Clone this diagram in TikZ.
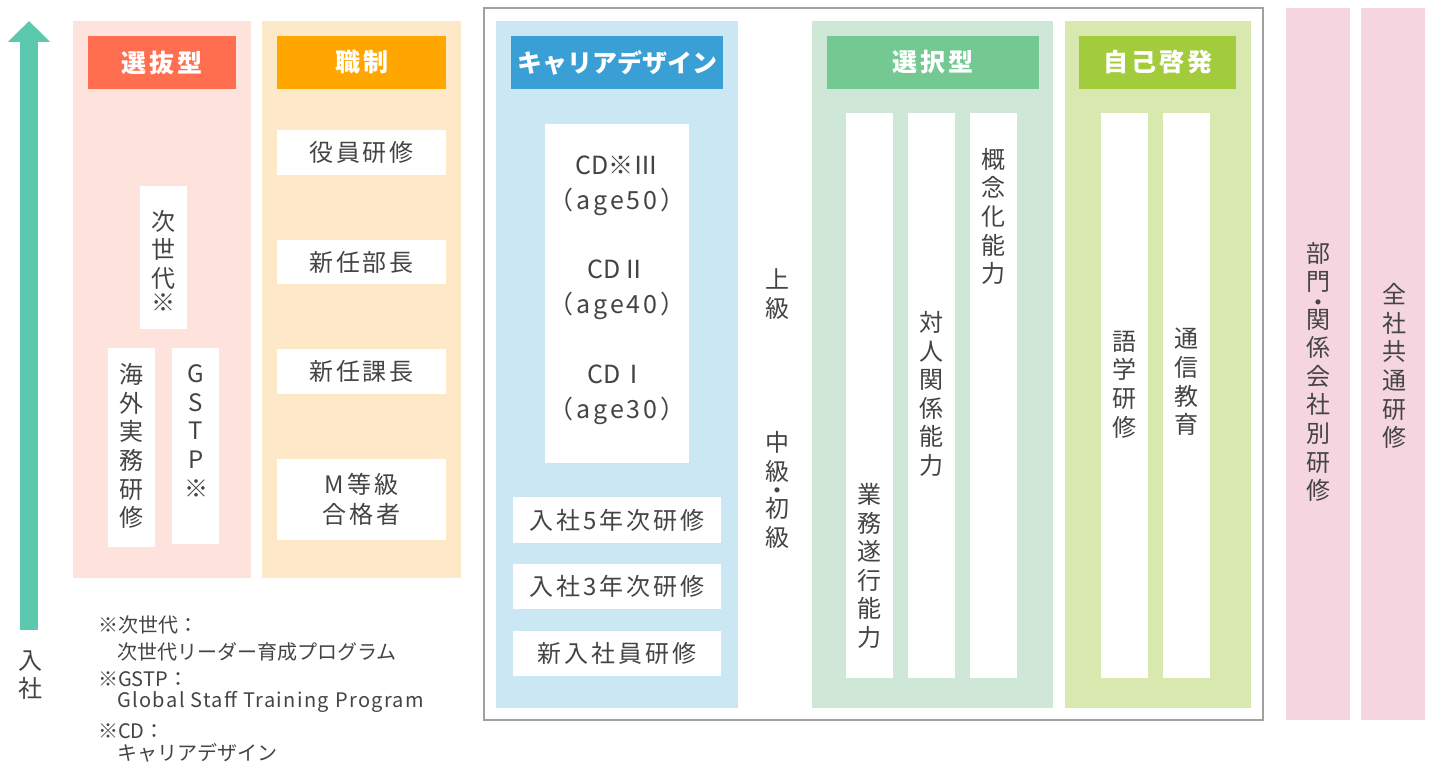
\documentclass[tikz,border=0pt]{standalone}
\usepackage{fontspec}
\setmainfont{Noto Sans CJK JP}
\usetikzlibrary{arrows.meta}
\definecolor{txt}{HTML}{444444}
\definecolor{framec}{HTML}{A0A0A0}
\definecolor{arrowc}{HTML}{5CC8AE}
\definecolor{selbg}{HTML}{FDE3DC}
\definecolor{selhd}{HTML}{FF6E4E}
\definecolor{shokubg}{HTML}{FDE9C7}
\definecolor{shokuhd}{HTML}{FFA700}
\definecolor{carbg}{HTML}{CCE7F4}
\definecolor{carhd}{HTML}{3A9FD5}
\definecolor{sntbg}{HTML}{CFE7D6}
\definecolor{snthd}{HTML}{74C992}
\definecolor{jkbg}{HTML}{D9E8AE}
\definecolor{jkhd}{HTML}{A3CC3C}
\definecolor{pinkbg}{HTML}{F5D6E0}
\newcommand\hdrfont{\fontsize{25}{30}\selectfont\bfseries\addfontfeature{LetterSpace=12}}
\newcommand\hdrkfont{\fontsize{25}{30}\selectfont\bfseries}
\newcommand\boxfont{\fontsize{24}{30}\selectfont\addfontfeature{LetterSpace=12}}
\newcommand\vfont{\fontsize{24}{28.6}\selectfont}
\newcommand\cdfont{\fontsize{25}{35}\selectfont}
\newcommand\agesp{\addfontfeature{LetterSpace=12}}
\newcommand\fnfont{\fontsize{20}{24}\selectfont}
\newcommand\fnlatin{\addfontfeature{LetterSpace=7}}
\newcommand\rbox[7]{%
  \pgfmathsetmacro\rbw{#4-#2}\pgfmathsetmacro\rbh{#5-#3}%
  \node[#6, minimum width=\rbw pt, minimum height=\rbh pt] (#1) at ({(#2+#4)/2},{(#3+#5)/2}) {#7};}
\tikzset{
  rect/.style={inner sep=0pt, outer sep=0pt, draw=none, align=center, text=txt},
  panel/.style={rect, fill=#1},
  hdr/.style={rect, fill=#1, text=white, font=\hdrfont},
  hdrk/.style={rect, fill=#1, text=white, font=\hdrkfont},
  wbox/.style={rect, fill=white, font=\boxfont},
  frame/.style={rect, draw=framec, line width=1.5pt},
  vtext/.style={inner sep=0pt, align=center, text=txt, font=\vfont},
  cdtext/.style={inner sep=0pt, align=center, text=txt, font=\cdfont},
  fn/.style={inner sep=0pt, anchor=west, text=txt, font=\fnfont},
}
\begin{document}
\begin{tikzpicture}[x=1pt,y=-1pt]
\useasboundingbox[fill=white] (0,0) rectangle (1429,765);

% arrow
\coordinate (arrowbot) at (29,630);
\coordinate (arrowtop) at (29,21);
\draw[arrowc, line width=18pt, line cap=butt, -{Triangle[width=41pt,length=21pt]}] (arrowbot) -- (arrowtop);
\node[vtext] (nyusha) at (30,675) {入\\社};

% 選抜型
\rbox{selP}{73}{21}{251}{578}{panel=selbg}{}
\rbox{selH}{88}{36}{236}{89}{hdr=selhd}{選抜型}
\rbox{jisedai}{140}{186}{187}{329}{wbox}{}
\rbox{kaigai}{108}{348}{155}{547}{wbox}{}
\rbox{gstp}{172}{348}{219}{544}{wbox}{}
\node[vtext] (tjisedai) at (163,261) {次\\世\\代\\[-4pt]※};
\node[vtext] (tkaigai) at (131,446) {海\\外\\実\\務\\研\\修};
\node[vtext] (tgstp) at (196,431) {G\\S\\T\\P\\※};

% 職制
\rbox{shokuP}{262}{21}{461}{578}{panel=shokubg}{}
\rbox{shokuH}{277}{36}{446}{89}{hdr=shokuhd}{職制}
\rbox{yakuin}{277}{130}{446}{175}{wbox}{役員研修}
\rbox{bucho}{277}{240}{446}{284}{wbox}{新任部長}
\rbox{kacho}{277}{349}{446}{394}{wbox}{新任課長}
\rbox{mto}{277}{459}{446}{540}{wbox}{M等級\\合格者}

% footnotes
\node[fn] (fn1) at (98,625) {※次世代：};
\node[fn] (fn2) at (117,652) {次世代リーダー育成プログラム};
\node[fn] (fn3) at (98,679) {※GSTP：};
\node[fn] (fn4) at (117,702) {\fnlatin Global Staff Training Program};
\node[fn] (fn5) at (98,731) {※CD：};
\node[fn] (fn6) at (117,753) {キャリアデザイン};

% frame
\rbox{frame}{484}{8}{1263}{720}{frame}{}

% キャリアデザイン
\rbox{carP}{496}{21}{738}{708}{panel=carbg}{}
\rbox{carH}{511}{36}{723}{89}{hdrk=carhd}{キャリアデザイン}
\rbox{cd}{545}{124}{689}{463}{wbox}{}
\node[cdtext] (cd3) at (617,185.5) {CD※Ⅲ\\{\agesp（age50）}};
\node[cdtext] (cd2) at (617,289.5) {CDⅡ\\{\agesp（age40）}};
\node[cdtext] (cd1) at (617,394.5) {CDⅠ\\{\agesp（age30）}};
\rbox{n5}{513}{497}{721}{543}{wbox}{入社5年次研修}
\rbox{n3}{513}{564}{721}{609}{wbox}{入社3年次研修}
\rbox{shin}{513}{631}{721}{676}{wbox}{新入社員研修}
\node[vtext] (joukyu) at (777,294) {上\\級};
\node[vtext] (chukyu) at (777,490) {中\\級\\[-10pt]・\\[-10pt]初\\級};

% 選択型
\rbox{sntP}{812}{21}{1053}{708}{panel=sntbg}{}
\rbox{sntH}{827}{36}{1039}{89}{hdr=snthd}{選択型}
\rbox{col1}{846}{113}{893}{678}{wbox}{}
\rbox{col2}{908}{113}{955}{678}{wbox}{}
\rbox{col3}{970}{113}{1017}{678}{wbox}{}
\node[vtext] (tgyomu) at (869.5,566) {業\\務\\遂\\行\\能\\力};
\node[vtext] (ttaijin) at (931.5,394) {対\\人\\関\\係\\能\\力};
\node[vtext] (tgainen) at (993.5,216.5) {概\\念\\化\\能\\力};

% 自己啓発
\rbox{jkP}{1065}{21}{1251}{708}{panel=jkbg}{}
\rbox{jkH}{1079}{36}{1236}{89}{hdr=jkhd}{自己啓発}
\rbox{col4}{1101}{113}{1148}{678}{wbox}{}
\rbox{col5}{1163}{113}{1210}{678}{wbox}{}
\node[vtext] (tgogaku) at (1124.5,384.5) {語\\学\\研\\修};
\node[vtext] (ttsushin) at (1186.5,382) {通\\信\\教\\育};

% pink columns
\rbox{bumon}{1286}{8}{1350}{720}{panel=pinkbg}{}
\rbox{zensha}{1361}{8}{1425}{720}{panel=pinkbg}{}
\node[vtext] (tbumon) at (1318,372) {部\\門\\[-8pt]・\\[-12pt]関\\係\\会\\社\\別\\研\\修};
\node[vtext] (tzensha) at (1394,366) {全\\社\\共\\通\\研\\修};
\end{tikzpicture}
\end{document}
